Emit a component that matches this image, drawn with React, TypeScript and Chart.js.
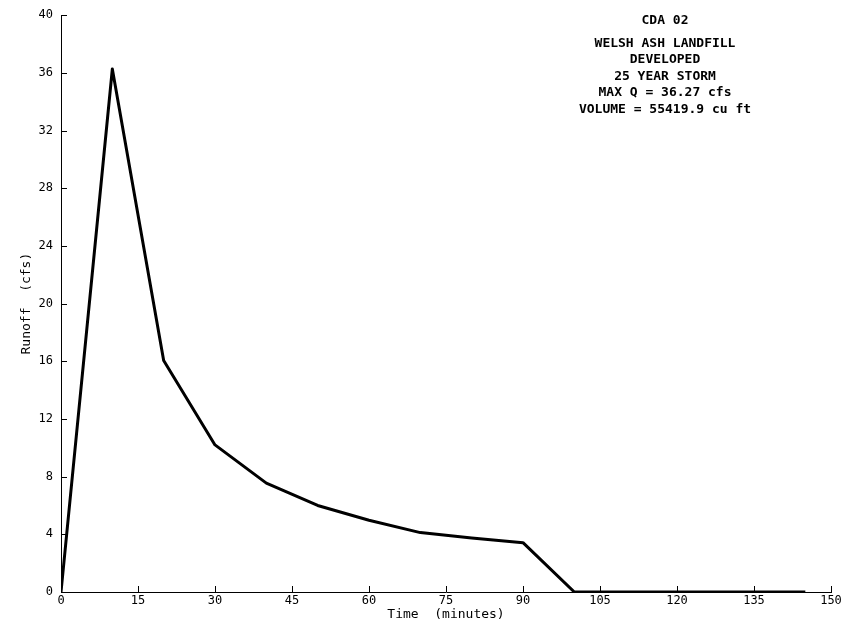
import React, { useEffect, useRef } from "react";
import { Chart, registerables } from "chart.js";

Chart.register(...registerables);

const timeMinutes = [0, 10, 20, 30, 40, 50, 60, 70, 80, 90, 100, 110, 120, 130, 140, 145];
const runoffCfs = [0, 36.27, 16.05, 10.2, 7.55, 6.0, 4.98, 4.12, 3.74, 3.42, 0, 0, 0, 0, 0, 0];
const xTickStep = 15;
const yTickStep = 4;
const annotationLines = [
  "CDA 02",
  "WELSH ASH LANDFILL",
  "DEVELOPED",
  "25 YEAR STORM",
  "MAX Q = 36.27 cfs",
  "VOLUME = 55419.9 cu ft",
];
const xTitle = "Time  (minutes)";
const yTitle = "Runoff  (cfs)";

const insideTicks = {
  id: "insideTicks",
  afterDraw(chart: any) {
    const { ctx, chartArea, scales } = chart;
    ctx.save();
    ctx.strokeStyle = "#000";
    ctx.lineWidth = 1;
    const xs = scales.x;
    xs.ticks.forEach((t: any) => {
      const px = Math.round(xs.getPixelForValue(t.value)) + 0.5;
      ctx.beginPath();
      ctx.moveTo(px, chartArea.bottom);
      ctx.lineTo(px, chartArea.bottom - 6);
      ctx.stroke();
    });
    const ys = scales.y;
    ys.ticks.forEach((t: any) => {
      const py = Math.round(ys.getPixelForValue(t.value)) + 0.5;
      ctx.beginPath();
      ctx.moveTo(chartArea.left, py);
      ctx.lineTo(chartArea.left + 6, py);
      ctx.stroke();
    });
    // annotation block
    ctx.fillStyle = "#000";
    ctx.font = "bold 13px 'DejaVu Sans Mono'";
    ctx.textAlign = "center";
    ctx.textBaseline = "middle";
    const cx = 665;
    const ys2 = [21, 43.5, 60, 76.5, 93, 109.5];
    annotationLines.forEach((l, i) => ctx.fillText(l, cx, ys2[i]));
    ctx.restore();
  },
};

export default function App() {
  const ref = useRef<HTMLCanvasElement>(null);
  useEffect(() => {
    document.body.style.margin = "0";
    const chart = new Chart(ref.current!, {
      type: "line",
      data: {
        datasets: [
          {
            data: timeMinutes.map((t, i) => ({ x: t, y: runoffCfs[i] })),
            borderColor: "#000",
            borderWidth: 3,
            pointRadius: 0,
            tension: 0,
            fill: false,
            borderJoinStyle: "round",
          },
        ],
      },
      options: {
        responsive: false,
        animation: false,
        layout: { padding: { top: 14, right: 25, left: 0, bottom: 0 } },
        plugins: { legend: { display: false }, tooltip: { enabled: false } },
        scales: {
          x: {
            type: "linear",
            min: 0,
            max: 150,
            afterFit: (s: any) => {
              s.height = 34;
            },
            ticks: {
              stepSize: xTickStep,
              color: "#000",
              font: { family: "'DejaVu Sans Mono'", size: 12 },
              padding: 2,
              maxRotation: 0,
            },
            grid: { display: false, drawTicks: false },
            border: { display: true, color: "#000", width: 1 },
            title: {
              display: true,
              text: xTitle,
              color: "#000",
              font: { family: "'DejaVu Sans Mono'", size: 13 },
              padding: { top: 0, bottom: 4 },
            },
          },
          y: {
            type: "linear",
            min: 0,
            max: 40,
            afterFit: (s: any) => {
              s.width = 61;
            },
            ticks: {
              stepSize: yTickStep,
              color: "#000",
              font: { family: "'DejaVu Sans Mono'", size: 12 },
              padding: 8,
            },
            grid: { display: false, drawTicks: false },
            border: { display: true, color: "#000", width: 1 },
            title: {
              display: true,
              text: yTitle,
              color: "#000",
              font: { family: "'DejaVu Sans Mono'", size: 13 },
              padding: { top: 19, bottom: 0 },
            },
          },
        },
      },
      plugins: [insideTicks],
    } as any);
    return () => chart.destroy();
  }, []);
  return (
    <div style={{ position: "absolute", left: 0, top: 0, width: 856, height: 626, background: "#fff" }}>
      <canvas ref={ref} width={856} height={626} style={{ display: "block" }} />
    </div>
  );
}
